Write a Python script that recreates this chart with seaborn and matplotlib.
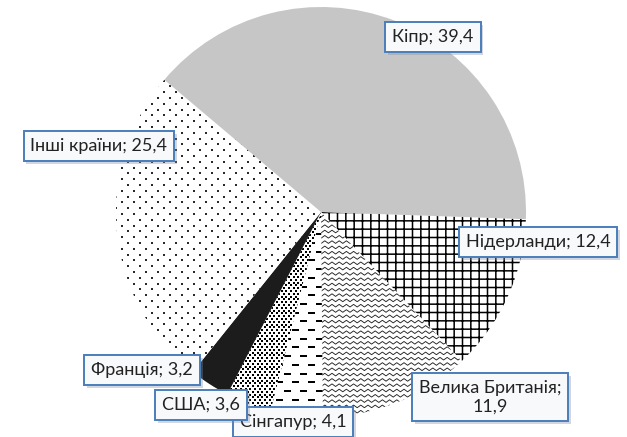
import numpy as np
import matplotlib
matplotlib.use("Agg")
import matplotlib.pyplot as plt
import matplotlib.patheffects as pe
from matplotlib.collections import LineCollection
import seaborn as sns

# Data: share of countries (%), clockwise from the east
countries = ["Нідерланди", "Велика Британія", "Сінгапур", "США", "Франція", "Інші країни", "Кіпр"]
shares = [12.4, 11.9, 4.1, 3.6, 3.2, 25.4, 39.4]

sns.set_theme(style="white")
plt.rcParams["font.family"] = ["Lato", "DejaVu Sans"]
plt.rcParams["hatch.linewidth"] = 1.1

W, H = 627, 437
fig = plt.figure(figsize=(W / 100, H / 100), dpi=100)
ax = fig.add_axes([0, 0, 1, 1])

# pie in pixel-like data units
cx, cy, R = 321, 225, 205
fills = ["white", "white", "white", "white", "#1c1c1c", "white", "#c6c6c6"]
hatches = ["++", None, None, None, None, None, None]

wedges, _ = ax.pie(shares, colors=fills, startangle=-2, counterclock=False,
                   center=(cx, cy), radius=R,
                   wedgeprops=dict(edgecolor="black", linewidth=0))
for w, h in zip(wedges, hatches):
    if h:
        w.set_hatch(h)

px = 0.72  # one pixel in points


def staggered_grid(dx, dy):
    gx, gy = [], []
    for j, y in enumerate(np.arange(cy - R, cy + R, dy)):
        xs = np.arange(cx - R + (j % 2) * dx / 2, cx + R, dx)
        gx.extend(xs)
        gy.extend([y] * len(xs))
    return gx, gy


# wavy texture (Велика Британія)
rows = []
for y in np.arange(cy - R, cy + R, 5.3):
    xs = np.arange(cx - R, cx + R, 3.6)
    ys = y + np.where(np.arange(len(xs)) % 2 == 0, 1.3, -1.3)
    rows.append(np.column_stack([xs, ys]))
lc = LineCollection(rows, colors="#222222", linewidths=0.9 * px)
ax.add_collection(lc)
lc.set_clip_path(wedges[1])

# dashes texture (Сінгапур)
segs = []
for j, y in enumerate(np.arange(cy - R, cy + R, 8.7)):
    for x in np.arange(cx - R + (j % 2) * 8, cx + R, 16):
        segs.append([(x, y), (x + 7, y)])
lc2 = LineCollection(segs, colors="black", linewidths=2 * px, capstyle="butt")
ax.add_collection(lc2)
lc2.set_clip_path(wedges[2])

# checker texture (США)
gx, gy = staggered_grid(4.8, 2.8)
sc = ax.scatter(gx, gy, marker="s", s=(2.4 * px) ** 2, color="black", linewidths=0)
sc.set_clip_path(wedges[3])

# sparse dots (Інші країни)
gx, gy = staggered_grid(12, 5.8)
sc2 = ax.scatter(gx, gy, marker="s", s=(1.9 * px) ** 2, color="#2a2a2a", linewidths=0)
sc2.set_clip_path(wedges[5])

# labels (box centres in pixels from the top-left)
label_pos = {
    "Кіпр": (433, 37),
    "Нідерланди": (538, 242),
    "Велика Британія": (490, 397),
    "Сінгапур": (293, 422),
    "США": (201, 405),
    "Франція": (142, 370),
    "Інші країни": (99, 146),
}
for name, v in zip(countries, shares):
    val = f"{v:.1f}".replace(".", ",")
    text = f"{name};\n{val}" if name == "Велика Британія" else f"{name}; {val}"
    x, y = label_pos[name]
    t = ax.text(x, H - y, text, ha="center", va="center", fontsize=13,
                color="#222222", zorder=5, linespacing=1.2,
                bbox=dict(boxstyle="square,pad=0.38", facecolor="#f8f9fb",
                          edgecolor="#4a7ebb", linewidth=1.4))
    t.get_bbox_patch().set_path_effects([
        pe.SimplePatchShadow(offset=(2, -2), shadow_rgbFace="#7f8fa6", alpha=0.35),
        pe.Normal()])

ax.set_xlim(0, W)
ax.set_ylim(0, H)
ax.set_axis_off()

plt.savefig("out.png", dpi=100)
